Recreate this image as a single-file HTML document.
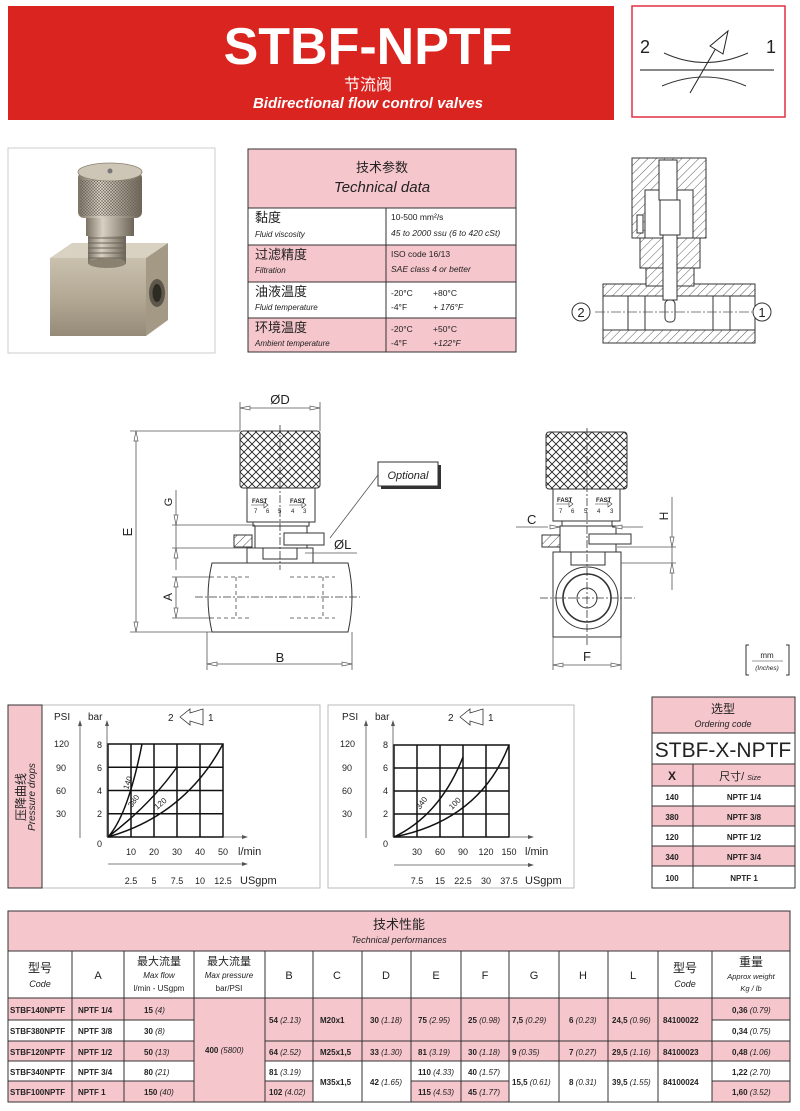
<!DOCTYPE html>
<html><head><meta charset="utf-8"><style>
html,body{margin:0;padding:0;background:#fff;}
svg{display:block;}
text{font-family:"Liberation Sans","Noto Sans CJK SC",sans-serif;fill:#222;}
.w{fill:#fff}
.b{font-weight:bold}
.i{font-style:italic}
.ln{stroke:#333;stroke-width:1;fill:none}
.dl{stroke:#555;stroke-width:0.8;fill:none}
.cl{stroke:#333;stroke-width:0.8;fill:none;stroke-dasharray:8 2 2 2}
.gr{stroke:#111;stroke-width:1.5;fill:none}
</style></head><body>
<svg width="800" height="1111" viewBox="0 0 800 1111" xmlns="http://www.w3.org/2000/svg">
<defs>
<pattern id="kn" width="8" height="8" patternUnits="userSpaceOnUse">
<rect width="8" height="8" fill="#fff"/>
<path d="M0 0L8 8M8 0L0 8" stroke="#222" stroke-width="0.9"/>
</pattern>
<pattern id="kn2" width="3" height="3" patternUnits="userSpaceOnUse">
<path d="M0 0L3 3M3 0L0 3" stroke="#6a6458" stroke-width="0.5"/>
</pattern>
<pattern id="ht" width="6" height="6" patternUnits="userSpaceOnUse" patternTransform="rotate(45)">
<rect width="6" height="6" fill="#fff"/>
<line x1="0" y1="0" x2="0" y2="6" stroke="#333" stroke-width="0.8"/>
</pattern>
<linearGradient id="front" x1="0" y1="0" x2="0" y2="1">
<stop offset="0" stop-color="#c9c0ae"/><stop offset="0.5" stop-color="#b3a995"/><stop offset="1" stop-color="#958b78"/>
</linearGradient>
<linearGradient id="metv" x1="0" y1="0" x2="1" y2="0">
<stop offset="0" stop-color="#7a7264"/><stop offset="0.35" stop-color="#d8d1c3"/><stop offset="1" stop-color="#6c6456"/>
</linearGradient>
</defs>

<!-- HEADER -->
<rect x="8" y="6" width="606" height="114" fill="#da2420"/>
<text x="368" y="64" text-anchor="middle" class="w b" font-size="52">STBF-NPTF</text>
<text x="368" y="90" text-anchor="middle" class="w" font-size="16">节流阀</text>
<text x="368" y="108" text-anchor="middle" class="w b i" font-size="15">Bidirectional flow control valves</text>

<rect x="632" y="6" width="153" height="111" fill="#fff" stroke="#e03040" stroke-width="1.5"/>
<text x="640" y="53" font-size="18">2</text>
<text x="766" y="53" font-size="18">1</text>
<line x1="640" y1="70" x2="774" y2="70" stroke="#111" stroke-width="1"/>
<path d="M664 53 Q705 72 748 53" class="ln" stroke="#555"/>
<path d="M662 86 Q705 68 746 86" class="ln" stroke="#555"/>
<line x1="690" y1="93" x2="716" y2="48" stroke="#222"/>
<polygon points="710,46 728,31 723,54" fill="#fff" stroke="#222"/>

<!-- PHOTO -->
<rect x="8" y="148" width="207" height="205" fill="#fff" stroke="#ccc"/>
<polygon points="50,258 72,243 168,243 146,258" fill="#d9d2c2"/>
<rect x="50" y="258" width="96" height="78" fill="url(#front)"/>
<polygon points="146,258 168,243 168,320 146,336" fill="#a39985"/>
<ellipse cx="157" cy="293" rx="8" ry="14" fill="#5e574b"/>
<ellipse cx="157" cy="293" rx="4.5" ry="9" fill="#2e2a24"/>
<rect x="88" y="232" width="38" height="32" fill="url(#metv)"/>
<path d="M88 238h38M88 243h38M88 248h38M88 253h38M88 258h38" stroke="#6c6456" stroke-width="1"/>
<ellipse cx="107" cy="263" rx="19" ry="5" fill="#8a8170"/>
<rect x="86" y="214" width="48" height="22" fill="url(#metv)"/>
<rect x="78" y="172" width="64" height="46" rx="6" fill="url(#metv)"/>
<rect x="80" y="180" width="60" height="36" fill="url(#kn2)"/>
<ellipse cx="110" cy="172" rx="32" ry="9" fill="#cdc5b5" stroke="#8a8170" stroke-width="0.8"/>
<circle cx="110" cy="171" r="2.5" fill="#777"/>

<!-- TECH DATA TABLE -->
<g stroke="#333" stroke-width="1">
<rect x="248" y="149" width="268" height="59" fill="#f5c6cc"/>
<rect x="248" y="208" width="268" height="37" fill="#fff"/>
<rect x="248" y="245" width="268" height="37" fill="#f5c6cc"/>
<rect x="248" y="282" width="268" height="36" fill="#fff"/>
<rect x="248" y="318" width="268" height="34" fill="#f5c6cc"/>
<line x1="386" y1="208" x2="386" y2="352"/>
</g>
<text x="382" y="172" text-anchor="middle" font-size="13">技术参数</text>
<text x="382" y="192" text-anchor="middle" class="i" font-size="15">Technical data</text>
<text x="255" y="222" font-size="13">黏度</text>
<text x="255" y="237" class="i" font-size="8">Fluid viscosity</text>
<text x="391" y="220" font-size="8.5">10-500 mm²/s</text>
<text x="391" y="236" class="i" font-size="8.5">45 to 2000 ssu (6 to 420 cSt)</text>
<text x="255" y="259" font-size="13">过滤精度</text>
<text x="255" y="273" class="i" font-size="8">Filtration</text>
<text x="391" y="257" font-size="8.5">ISO code 16/13</text>
<text x="391" y="272" class="i" font-size="8.5">SAE class 4 or better</text>
<text x="255" y="296" font-size="13">油液温度</text>
<text x="255" y="310" class="i" font-size="8">Fluid temperature</text>
<text x="391" y="296" font-size="8.5">-20°C</text><text x="433" y="296" font-size="8.5">+80°C</text>
<text x="391" y="310" font-size="8.5">-4°F</text><text x="433" y="310" class="i" font-size="8.5">+ 176°F</text>
<text x="255" y="332" font-size="13">环境温度</text>
<text x="255" y="346" class="i" font-size="8">Ambient temperature</text>
<text x="391" y="332" font-size="8.5">-20°C</text><text x="433" y="332" font-size="8.5">+50°C</text>
<text x="391" y="346" font-size="8.5">-4°F</text><text x="433" y="346" class="i" font-size="8.5">+122°F</text>

<!-- SECTION DRAWING -->
<g stroke="#333" stroke-width="1">
<rect x="603" y="284" width="152" height="12" fill="url(#ht)"/>
<rect x="603" y="330" width="152" height="13" fill="url(#ht)"/>
<rect x="603" y="296" width="152" height="34" fill="#fff"/>
<line x1="628" y1="296" x2="628" y2="330"/><line x1="730" y1="296" x2="730" y2="330"/>
<line x1="645" y1="296" x2="645" y2="330"/><line x1="713" y1="296" x2="713" y2="330"/>
<rect x="632" y="158" width="74" height="80" fill="url(#ht)"/>
<rect x="645" y="190" width="48" height="48" fill="#fff"/>
<rect x="640" y="238" width="60" height="30" fill="url(#ht)"/>
<rect x="646" y="268" width="48" height="18" fill="url(#ht)"/>
<rect x="659" y="160" width="18" height="40" fill="#fff"/>
<rect x="660" y="200" width="20" height="35" fill="#fff"/>
<rect x="663" y="235" width="14" height="65" fill="#fff"/>
<rect x="665" y="300" width="10" height="22" rx="4" fill="#fff"/>
<rect x="637" y="215" width="6" height="18" fill="#fff"/>
</g>
<line x1="595" y1="312" x2="752" y2="312" class="dl" stroke-dasharray="10 2 2 2"/>
<circle cx="581" cy="312" r="9" fill="#fff" stroke="#333"/>
<text x="581" y="317" text-anchor="middle" font-size="13">2</text>
<circle cx="762" cy="312" r="9" fill="#fff" stroke="#333"/>
<text x="762" y="317" text-anchor="middle" font-size="13">1</text>

<!-- FRONT VIEW -->
<g stroke="#333" stroke-width="1">
<rect x="240" y="431" width="80" height="57" rx="3" fill="url(#kn)"/>
<rect x="247" y="488" width="68" height="34" fill="#fff"/>
<rect x="253" y="522" width="56" height="4" fill="#fff"/>
<rect x="255" y="526" width="52" height="22" fill="#fff"/>
<rect x="284" y="533" width="40" height="12" fill="#fff"/>
<rect x="234" y="535" width="18" height="12" fill="url(#ht)"/>
<rect x="247" y="548" width="66" height="15" fill="#fff"/>
<rect x="263" y="548" width="34" height="11" fill="#fff"/>
<path d="M212 563 H348 Q356 597 348 632 H212 Q204 597 212 563Z" fill="#fff"/>
</g>
<path d="M210 577H250M290 577H335M210 618H250M290 618H335M236 577V618M323 577V618" stroke="#444" stroke-width="0.8" stroke-dasharray="4 3" fill="none"/>
<line x1="195" y1="597" x2="360" y2="597" class="cl"/>
<line x1="280" y1="425" x2="280" y2="570" class="cl"/>
<text x="252" y="503" font-size="6" class="b">FAST</text><text x="290" y="503" font-size="6" class="b">FAST</text>
<path d="M251 505h14M289 505h14" stroke="#333" stroke-width="0.6"/>
<path d="M264 502l4 3-4 3zM302 502l4 3-4 3z" fill="#fff" stroke="#333" stroke-width="0.6"/>
<text x="254" y="513" font-size="6">7</text><text x="266" y="513" font-size="6">6</text><text x="278" y="513" font-size="6">5</text><text x="291" y="513" font-size="6">4</text><text x="303" y="513" font-size="6">3</text>
<g class="dl">
<line x1="240" y1="402" x2="240" y2="431"/><line x1="320" y1="402" x2="320" y2="431"/>
<line x1="240" y1="408" x2="320" y2="408"/>
<line x1="130" y1="431" x2="240" y2="431"/><line x1="130" y1="632" x2="212" y2="632"/>
<line x1="136" y1="431" x2="136" y2="632"/>
<line x1="172" y1="525" x2="255" y2="525"/><line x1="172" y1="548" x2="255" y2="548"/>
<line x1="176" y1="490" x2="176" y2="570"/>
<line x1="172" y1="577" x2="212" y2="577"/><line x1="172" y1="618" x2="212" y2="618"/>
<line x1="176" y1="577" x2="176" y2="618"/>
<line x1="207" y1="632" x2="207" y2="670"/><line x1="352" y1="632" x2="352" y2="670"/>
<line x1="207" y1="664" x2="352" y2="664"/>
<line x1="305" y1="553" x2="357" y2="553"/>
<line x1="378" y1="475" x2="330" y2="538"/>
</g>
<g fill="#fff" stroke="#555" stroke-width="0.7">
<path d="M240 408l10-2v4zM320 408l-10-2v4zM136 431l-2 10h4zM136 632l-2-10h4zM176 525l-2-10h4zM176 548l-2 10h4zM176 577l-2 10h4zM176 618l-2-10h4zM207 664l10-2v4zM352 664l-10-2v4z"/>
</g>
<text x="280" y="404" text-anchor="middle" font-size="13">ØD</text>
<text x="132" y="532" font-size="13" transform="rotate(-90 132 532)" text-anchor="middle">E</text>
<text x="172" y="502" font-size="11" transform="rotate(-90 172 502)" text-anchor="middle">G</text>
<text x="172" y="597" font-size="12" transform="rotate(-90 172 597)" text-anchor="middle">A</text>
<text x="280" y="662" text-anchor="middle" font-size="13">B</text>
<text x="334" y="549" font-size="13">ØL</text>
<rect x="381" y="465" width="60" height="24" fill="#333"/>
<rect x="378" y="462" width="60" height="24" fill="#fff" stroke="#333"/>
<text x="408" y="479" text-anchor="middle" class="i" font-size="11">Optional</text>

<!-- SIDE VIEW -->
<g stroke="#333" stroke-width="1">
<rect x="546" y="432" width="81" height="57" rx="3" fill="url(#kn)"/>
<rect x="553" y="489" width="67" height="32" fill="#fff"/>
<rect x="562" y="521" width="50" height="5" fill="#fff"/>
<rect x="560" y="526" width="56" height="26" fill="#fff"/>
<rect x="589" y="534" width="42" height="10" fill="#fff"/>
<rect x="542" y="535" width="18" height="12" fill="url(#ht)"/>
<rect x="553" y="552" width="68" height="85" fill="#fff"/>
<rect x="571" y="552" width="34" height="13" fill="#fff"/>
<circle cx="587" cy="598" r="31" fill="none"/>
<circle cx="587" cy="598" r="24" fill="none" stroke-width="1.6"/>
<circle cx="587" cy="598" r="10" fill="none"/>
</g>
<line x1="587" y1="428" x2="587" y2="645" class="cl"/>
<line x1="540" y1="598" x2="635" y2="598" class="cl"/>
<text x="557" y="502" font-size="6" class="b">FAST</text><text x="596" y="502" font-size="6" class="b">FAST</text>
<path d="M556 504h14M595 504h14" stroke="#333" stroke-width="0.6"/>
<path d="M569 501l4 3-4 3zM608 501l4 3-4 3z" fill="#fff" stroke="#333" stroke-width="0.6"/>
<text x="559" y="513" font-size="6">7</text><text x="571" y="513" font-size="6">6</text><text x="584" y="513" font-size="6">5</text><text x="597" y="513" font-size="6">4</text><text x="610" y="513" font-size="6">3</text>
<g class="dl">
<line x1="516" y1="527" x2="548" y2="527"/><line x1="612" y1="527" x2="643" y2="527"/>
<line x1="672" y1="497" x2="672" y2="590"/>
<line x1="617" y1="547" x2="676" y2="547"/><line x1="621" y1="563" x2="676" y2="563"/>
<line x1="553" y1="637" x2="553" y2="670"/><line x1="621" y1="637" x2="621" y2="670"/>
<line x1="553" y1="665" x2="621" y2="665"/>
</g>
<g fill="#fff" stroke="#555" stroke-width="0.7">
<path d="M560 527l-10-2v4zM612 527l10-2v4zM672 547l-2-10h4zM672 563l-2 10h4zM553 665l10-2v4zM621 665l-10-2v4z"/>
</g>
<text x="527" y="524" font-size="13">C</text>
<text x="668" y="516" font-size="12" transform="rotate(-90 668 516)" text-anchor="middle">H</text>
<text x="587" y="661" text-anchor="middle" font-size="13">F</text>
<path d="M749 645h-3v30h3M786 645h3v30h-3" stroke="#333" fill="none"/>
<line x1="752" y1="661" x2="783" y2="661" stroke="#333" stroke-width="0.6"/>
<text x="767" y="658" text-anchor="middle" font-size="8">mm</text>
<text x="767" y="670" text-anchor="middle" class="i" font-size="6.5" fill="#335">(Inches)</text>

<!-- GRAPH LEFT -->
<rect x="8" y="705" width="312" height="183" fill="#fff" stroke="#bbb"/>
<rect x="8" y="705" width="34" height="183" fill="#f5c6cc" stroke="#333"/>
<text x="25" y="797" font-size="12" transform="rotate(-90 25 797)" text-anchor="middle">压降曲线</text>
<text x="35" y="797" font-size="10" class="i" transform="rotate(-90 35 797)" text-anchor="middle">Pressure drops</text>
<g class="gr">
<rect x="108" y="744" width="115" height="93"/>
<path d="M131 744V837M154 744V837M177 744V837M200 744V837M108 767.25H223M108 790.5H223M108 813.75H223"/>
<path d="M108 837 Q128 815 142 744M108 837 Q150 805 177 767M108 837 Q185 815 223 744"/>
</g>
<g stroke="#555" stroke-width="0.8" fill="none">
<path d="M80 838V722M107 837V722M223 837H246M108 864H246"/>
</g>
<g fill="#555"><path d="M80 720l-2 6h4zM107 720l-2 6h4zM248 837l-6-2v4zM248 864l-6-2v4z"/></g>
<text x="54" y="720" font-size="10">PSI</text><text x="88" y="720" font-size="10">bar</text>
<g font-size="9"><text x="54" y="747">120</text><text x="56" y="771">90</text><text x="56" y="794">60</text><text x="56" y="817">30</text></g>
<g font-size="9" text-anchor="end"><text x="102" y="748">8</text><text x="102" y="771">6</text><text x="102" y="794">4</text><text x="102" y="817">2</text><text x="102" y="847">0</text></g>
<g font-size="9" text-anchor="middle"><text x="131" y="855">10</text><text x="154" y="855">20</text><text x="177" y="855">30</text><text x="200" y="855">40</text><text x="223" y="855">50</text>
<text x="131" y="884">2.5</text><text x="154" y="884">5</text><text x="177" y="884">7.5</text><text x="200" y="884">10</text><text x="223" y="884">12.5</text></g>
<text x="238" y="855" font-size="11">l/min</text><text x="240" y="884" font-size="11">USgpm</text>
<g font-size="8"><text x="128" y="790" transform="rotate(-70 128 790)">140</text><text x="132" y="808" transform="rotate(-55 132 808)">380</text><text x="157" y="810" transform="rotate(-40 157 810)">120</text></g>
<text x="168" y="721" font-size="10">2</text>
<polygon points="180,717 190,709 190,713 203,709 203,725 190,721 190,725" fill="#fff" stroke="#333" stroke-width="0.8"/>
<text x="208" y="721" font-size="10">1</text>

<!-- GRAPH RIGHT -->
<rect x="328" y="705" width="246" height="183" fill="#fff" stroke="#bbb"/>
<g class="gr">
<rect x="394" y="745" width="115" height="92"/>
<path d="M417 745V837M440 745V837M463 745V837M486 745V837M394 768H509M394 791H509M394 814H509"/>
<path d="M394 837 Q440 815 463 757M394 837 Q480 820 509 745"/>
</g>
<g stroke="#555" stroke-width="0.8" fill="none">
<path d="M366 838V722M393 837V722M509 837H532M394 865H532"/>
</g>
<g fill="#555"><path d="M366 720l-2 6h4zM393 720l-2 6h4zM534 837l-6-2v4zM534 865l-6-2v4z"/></g>
<text x="342" y="720" font-size="10">PSI</text><text x="375" y="720" font-size="10">bar</text>
<g font-size="9"><text x="340" y="747">120</text><text x="342" y="771">90</text><text x="342" y="794">60</text><text x="342" y="817">30</text></g>
<g font-size="9" text-anchor="end"><text x="388" y="748">8</text><text x="388" y="771">6</text><text x="388" y="794">4</text><text x="388" y="817">2</text><text x="388" y="847">0</text></g>
<g font-size="9" text-anchor="middle"><text x="417" y="855">30</text><text x="440" y="855">60</text><text x="463" y="855">90</text><text x="486" y="855">120</text><text x="509" y="855">150</text>
<text x="417" y="884">7.5</text><text x="440" y="884">15</text><text x="463" y="884">22.5</text><text x="486" y="884">30</text><text x="509" y="884">37.5</text></g>
<text x="525" y="855" font-size="11">l/min</text><text x="525" y="884" font-size="11">USgpm</text>
<g font-size="8"><text x="420" y="810" transform="rotate(-55 420 810)">340</text><text x="452" y="810" transform="rotate(-45 452 810)">100</text></g>
<text x="448" y="721" font-size="10">2</text>
<polygon points="460,717 470,709 470,713 483,709 483,725 470,721 470,725" fill="#fff" stroke="#333" stroke-width="0.8"/>
<text x="488" y="721" font-size="10">1</text>

<!-- ORDERING CODE -->
<g stroke="#333" stroke-width="1">
<rect x="652" y="697" width="143" height="36" fill="#f5c6cc"/>
<rect x="652" y="733" width="143" height="31" fill="#fff"/>
<rect x="652" y="764" width="143" height="22" fill="#f5c6cc"/>
<rect x="652" y="786" width="143" height="20" fill="#fff"/>
<rect x="652" y="806" width="143" height="20" fill="#f5c6cc"/>
<rect x="652" y="826" width="143" height="20" fill="#fff"/>
<rect x="652" y="846" width="143" height="20" fill="#f5c6cc"/>
<rect x="652" y="866" width="143" height="22" fill="#fff"/>
<line x1="693" y1="764" x2="693" y2="888"/>
</g>
<text x="723" y="713" text-anchor="middle" font-size="12">选型</text>
<text x="723" y="727" text-anchor="middle" class="i" font-size="9">Ordering code</text>
<text x="723" y="757" text-anchor="middle" font-size="21">STBF-X-NPTF</text>
<text x="672" y="780" text-anchor="middle" class="b" font-size="12">X</text>
<text x="740" y="780" text-anchor="middle" font-size="11">尺寸/ <tspan class="i" font-size="7">Size</tspan></text>
<g font-size="8" class="b" text-anchor="middle">
<text x="672" y="800">140</text><text x="744" y="800">NPTF 1/4</text>
<text x="672" y="820">380</text><text x="744" y="820">NPTF 3/8</text>
<text x="672" y="840">120</text><text x="744" y="840">NPTF 1/2</text>
<text x="672" y="860">340</text><text x="744" y="860">NPTF 3/4</text>
<text x="672" y="881">100</text><text x="744" y="881">NPTF 1</text>
</g>

<!-- BOTTOM TABLE -->
<g stroke="#333" stroke-width="1">
<rect x="8" y="911" width="782" height="40" fill="#f5c6cc"/>
<rect x="8" y="951" width="782" height="47" fill="#fff"/>
<rect x="8" y="998" width="186" height="22" fill="#f5c6cc"/>
<rect x="8" y="1020" width="186" height="21" fill="#fff"/>
<rect x="8" y="1041" width="186" height="20" fill="#f5c6cc"/>
<rect x="8" y="1061" width="186" height="20" fill="#fff"/>
<rect x="8" y="1081" width="186" height="21" fill="#f5c6cc"/>
<rect x="194" y="998" width="71" height="104" fill="#f5c6cc"/>
<rect x="265" y="998" width="447" height="43" fill="#f5c6cc"/>
<rect x="265" y="1041" width="447" height="20" fill="#f5c6cc"/>
<rect x="265" y="1061" width="447" height="41" fill="#fff"/>
<rect x="265" y="1081" width="48" height="21" fill="#f5c6cc"/>
<rect x="411" y="1081" width="98" height="21" fill="#f5c6cc"/>
<rect x="712" y="998" width="78" height="22" fill="#f5c6cc"/>
<rect x="712" y="1020" width="78" height="21" fill="#fff"/>
<rect x="712" y="1041" width="78" height="20" fill="#f5c6cc"/>
<rect x="712" y="1061" width="78" height="20" fill="#fff"/>
<rect x="712" y="1081" width="78" height="21" fill="#f5c6cc"/>
<path d="M72 951V1102M124 951V1102M194 951V1102M265 951V1102M313 951V1102M362 951V1102M411 951V1102M461 951V1102M509 951V1102M559 951V1102M608 951V1102M658 951V1102M712 951V1102"/>
<path d="M8 1020H194M712 1020H790M8 1041H194M265 1041H790M8 1061H194M265 1061H790M8 1081H194M712 1081H790M265 1081H313M411 1081H509"/>
<rect x="8" y="911" width="782" height="191" fill="none"/>
</g>
<text x="399" y="929" text-anchor="middle" font-size="13">技术性能</text>
<text x="399" y="943" text-anchor="middle" class="i" font-size="9">Technical performances</text>
<g text-anchor="middle">
<text x="40" y="972" font-size="12">型号</text><text x="40" y="987" class="i" font-size="9">Code</text>
<text x="98" y="979" font-size="11">A</text>
<text x="159" y="965" font-size="11">最大流量</text><text x="159" y="978" class="i" font-size="8">Max flow</text><text x="159" y="991" font-size="8">l/min - USgpm</text>
<text x="229" y="965" font-size="11">最大流量</text><text x="229" y="978" class="i" font-size="8">Max pressure</text><text x="229" y="991" font-size="8">bar/PSI</text>
<text x="289" y="979" font-size="11">B</text><text x="337" y="979" font-size="11">C</text><text x="386" y="979" font-size="11">D</text><text x="436" y="979" font-size="11">E</text><text x="485" y="979" font-size="11">F</text><text x="534" y="979" font-size="11">G</text><text x="583" y="979" font-size="11">H</text><text x="633" y="979" font-size="11">L</text>
<text x="685" y="972" font-size="12">型号</text><text x="685" y="987" class="i" font-size="9">Code</text>
<text x="751" y="966" font-size="12">重量</text><text x="751" y="979" class="i" font-size="7.5">Approx weight</text><text x="751" y="991" class="i" font-size="7.5">Kg / lb</text>
</g>
<g font-size="8" class="b">
<text x="10" y="1013">STBF140NPTF</text><text x="10" y="1034">STBF380NPTF</text><text x="10" y="1055">STBF120NPTF</text><text x="10" y="1075">STBF340NPTF</text><text x="10" y="1095">STBF100NPTF</text>
<text x="78" y="1013">NPTF 1/4</text><text x="78" y="1034">NPTF 3/8</text><text x="78" y="1055">NPTF 1/2</text><text x="78" y="1075">NPTF 3/4</text><text x="78" y="1095">NPTF 1</text>
<text x="144" y="1013">15 <tspan class="i" font-weight="normal">(4)</tspan></text>
<text x="144" y="1034">30 <tspan font-weight="normal" class="i">(8)</tspan></text>
<text x="144" y="1055">50 <tspan font-weight="normal" class="i">(13)</tspan></text>
<text x="144" y="1075">80 <tspan font-weight="normal" class="i">(21)</tspan></text>
<text x="144" y="1095">150 <tspan font-weight="normal" class="i">(40)</tspan></text>
<text x="205" y="1053">400 <tspan font-weight="normal" class="i">(5800)</tspan></text>
<text x="269" y="1023">54 <tspan font-weight="normal" class="i">(2.13)</tspan></text>
<text x="269" y="1055">64 <tspan font-weight="normal" class="i">(2.52)</tspan></text>
<text x="269" y="1075">81 <tspan font-weight="normal" class="i">(3.19)</tspan></text>
<text x="269" y="1095">102 <tspan font-weight="normal" class="i">(4.02)</tspan></text>
<text x="320" y="1023">M20x1</text><text x="320" y="1055">M25x1,5</text><text x="320" y="1085">M35x1,5</text>
<text x="370" y="1023">30 <tspan font-weight="normal" class="i">(1.18)</tspan></text>
<text x="370" y="1055">33 <tspan font-weight="normal" class="i">(1.30)</tspan></text>
<text x="370" y="1085">42 <tspan font-weight="normal" class="i">(1.65)</tspan></text>
<text x="418" y="1023">75 <tspan font-weight="normal" class="i">(2.95)</tspan></text>
<text x="418" y="1055">81 <tspan font-weight="normal" class="i">(3.19)</tspan></text>
<text x="418" y="1075">110 <tspan font-weight="normal" class="i">(4.33)</tspan></text>
<text x="418" y="1095">115 <tspan font-weight="normal" class="i">(4.53)</tspan></text>
<text x="468" y="1023">25 <tspan font-weight="normal" class="i">(0.98)</tspan></text>
<text x="468" y="1055">30 <tspan font-weight="normal" class="i">(1.18)</tspan></text>
<text x="468" y="1075">40 <tspan font-weight="normal" class="i">(1.57)</tspan></text>
<text x="468" y="1095">45 <tspan font-weight="normal" class="i">(1.77)</tspan></text>
<text x="512" y="1023">7,5 <tspan font-weight="normal" class="i">(0.29)</tspan></text>
<text x="512" y="1055">9 <tspan font-weight="normal" class="i">(0.35)</tspan></text>
<text x="512" y="1085">15,5 <tspan font-weight="normal" class="i">(0.61)</tspan></text>
<text x="569" y="1023">6 <tspan font-weight="normal" class="i">(0.23)</tspan></text>
<text x="569" y="1055">7 <tspan font-weight="normal" class="i">(0.27)</tspan></text>
<text x="569" y="1085">8 <tspan font-weight="normal" class="i">(0.31)</tspan></text>
<text x="612" y="1023">24,5 <tspan font-weight="normal" class="i">(0.96)</tspan></text>
<text x="612" y="1055">29,5 <tspan font-weight="normal" class="i">(1.16)</tspan></text>
<text x="612" y="1085">39,5 <tspan font-weight="normal" class="i">(1.55)</tspan></text>
<text x="663" y="1023">84100022</text><text x="663" y="1055">84100023</text><text x="663" y="1085">84100024</text>
<text x="732" y="1013">0,36 <tspan font-weight="normal" class="i">(0.79)</tspan></text>
<text x="732" y="1034">0,34 <tspan font-weight="normal" class="i">(0.75)</tspan></text>
<text x="732" y="1055">0,48 <tspan font-weight="normal" class="i">(1.06)</tspan></text>
<text x="732" y="1075">1,22 <tspan font-weight="normal" class="i">(2.70)</tspan></text>
<text x="732" y="1095">1,60 <tspan font-weight="normal" class="i">(3.52)</tspan></text>
</g>
</svg>
</body></html>
